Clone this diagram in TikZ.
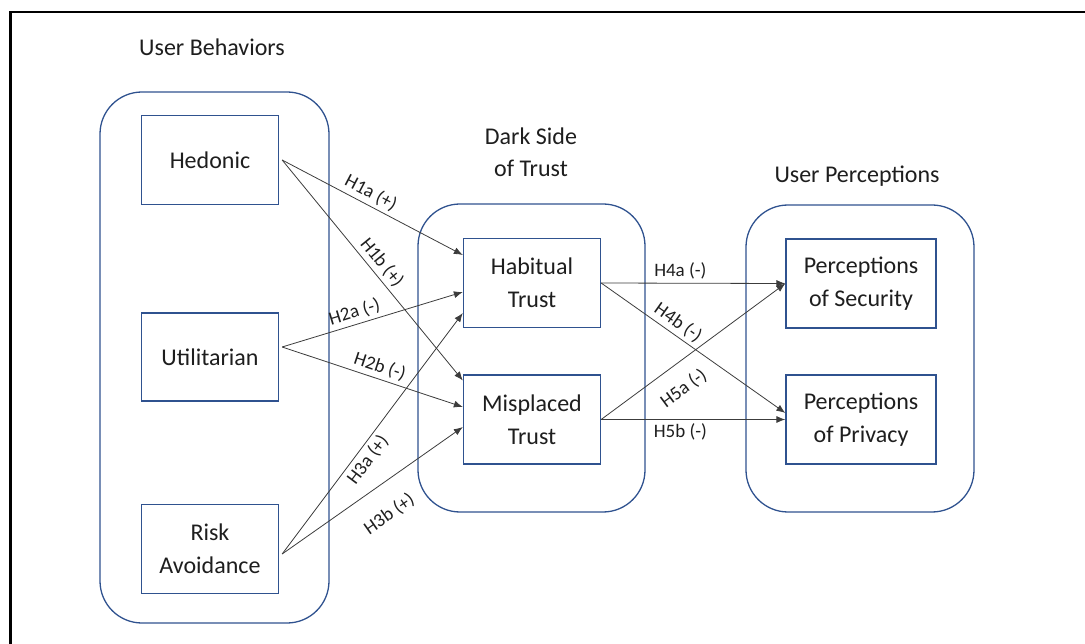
\documentclass[tikz,border=0pt]{standalone}
\usepackage{fontspec}
\setmainfont{Carlito}
\usetikzlibrary{arrows.meta}

\definecolor{boxblue}{RGB}{47,82,143}
\definecolor{linegray}{RGB}{60,60,60}
\definecolor{txt}{RGB}{30,30,30}

\tikzset{
  grp/.style={draw=boxblue, line width=1.3pt, rounded corners=42pt, inner sep=0pt},
  var/.style={draw=boxblue, line width=1.3pt, fill=white, text=txt, minimum width=137pt,
    minimum height=89pt, align=center, inner sep=0pt, font=\fontsize{24}{33}\selectfont},
  ttl/.style={align=center, text=txt, font=\fontsize{24}{32}\selectfont},
  hyp/.style={draw=linegray, line width=0.8pt, -{Latex[length=9pt,width=7pt]}},
  lab/.style={sloped, text=txt, inner sep=3.5pt, font=\fontsize{19}{20}\selectfont},
}

\begin{document}
\begin{tikzpicture}[x=1pt,y=-1pt]
  \useasboundingbox (0,0) rectangle (1085,644);
  \draw[line width=2.5pt] (10.3,644) -- (10.3,12) -- (1085,12);

  % groups
  \node[grp, minimum width=229pt, minimum height=531pt] (ubox) at (214.5,357.5) {};
  \node[grp, minimum width=227pt, minimum height=308pt] (dbox) at (531.5,358) {};
  \node[grp, minimum width=228pt, minimum height=307pt] (pbox) at (860,358.5) {};
  \node[ttl] (ubt) at (212,47) {User Behaviors};
  \node[ttl] (dbt) at (531,152) {Dark Side\\of Trust};
  \node[ttl] (pbt) at (857,176) {User Perceptions};

  % variables
  \node[var] (hed) at (210,160) {Hedonic};
  \node[var, minimum height=88pt] (uti) at (210,357) {Utilitarian};
  \node[var] (risk) at (210,549) {Risk\\Avoidance};
  \node[var] (hab) at (532,283) {Habitual\\Trust};
  \node[var] (mis) at (532,419.5) {Misplaced\\Trust};
  \node[var, minimum width=150pt] (sec) at (861,283.5) {Perceptions\\of Security};
  \node[var, minimum width=150pt] (pri) at (861,419.5) {Perceptions\\of Privacy};

  % hypotheses
  \draw[hyp] ([xshift=3pt]hed.east) -- ([yshift=28pt]hab.west) node[lab, above, pos=0.46] {H1a (+)};
  \draw[hyp] ([xshift=3pt]hed.east) -- ([yshift=39pt]mis.west) node[lab, above, pos=0.5] {H1b (+)};
  \draw[hyp] ([xshift=3pt,yshift=10pt]uti.east) -- ([yshift=-9pt]hab.west) node[lab, above, pos=0.42] {H2a (-)};
  \draw[hyp] ([xshift=3pt,yshift=10pt]uti.east) -- ([yshift=12.5pt]mis.west) node[lab, above, pos=0.52] {H2b (-)};
  \draw[hyp] ([xshift=3pt,yshift=-5pt]risk.east) -- ([yshift=-30pt]hab.west) node[lab, below, pos=0.42] {H3a (+)};
  \draw[hyp] ([xshift=3pt,yshift=-5pt]risk.east) -- ([yshift=-7.5pt]mis.west) node[lab, below=17pt, pos=0.5] {H3b (+)};
  \draw[hyp] (hab.east) -- (sec.west) node[lab, above, pos=0.43] {H4a (-)};
  \draw[hyp] (hab.east) -- ([yshift=6.5pt]pri.west) node[lab, above, pos=0.38] {H4b (-)};
  \draw[hyp] (mis.east) -- (sec.west) node[lab, below=12pt, pos=0.37] {H5a (-)};
  \draw[hyp] (mis.east) -- (pri.west) node[lab, below, pos=0.43] {H5b (-)};
\end{tikzpicture}
\end{document}
